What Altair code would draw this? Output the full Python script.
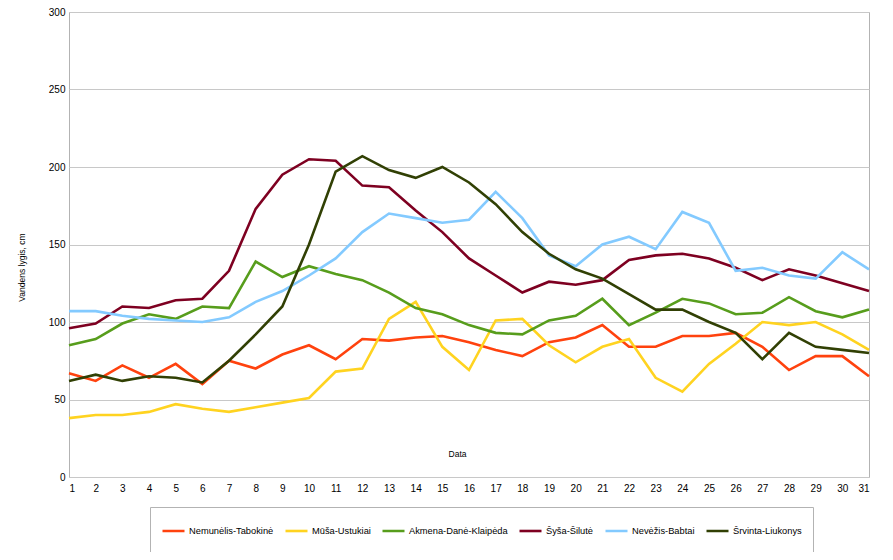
import altair as alt
import pandas as pd

days = list(range(1, 32))
series = ["Nemunėlis-Tabokinė", "Mūša-Ustukiai", "Akmena-Danė-Klaipėda",
          "Šyša-Šilutė", "Nevėžis-Babtai", "Šrvinta-Liukonys"]
colors = ["#ff420e", "#ffd320", "#579d1c", "#7e0021", "#83caff", "#314004"]

nemunelis = [67, 62, 72, 64, 73, 60, 75, 70, 79, 85, 76, 89, 88, 90, 91, 87,
             82, 78, 87, 90, 98, 84, 84, 91, 91, 93, 84, 69, 78, 78, 65]
musa = [38, 40, 40, 42, 47, 44, 42, 45, 48, 51, 68, 70, 102, 113, 84, 69,
        101, 102, 85, 74, 84, 89, 64, 55, 73, 86, 100, 98, 100, 92, 82]
akmena = [85, 89, 99, 105, 102, 110, 109, 139, 129, 136, 131, 127, 119, 109,
          105, 98, 93, 92, 101, 104, 115, 98, 106, 115, 112, 105, 106, 116,
          107, 103, 108]
sysa = [96, 99, 110, 109, 114, 115, 133, 173, 195, 205, 204, 188, 187, 172,
        158, 141, 130, 119, 126, 124, 127, 140, 143, 144, 141, 135, 127, 134,
        130, 125, 120]
nevezis = [107, 107, 104, 102, 101, 100, 103, 113, 120, 130, 141, 158, 170,
           167, 164, 166, 184, 167, 143, 136, 150, 155, 147, 171, 164, 133,
           135, 130, 128, 145, 134]
srvinta = [62, 66, 62, 65, 64, 61, 75, 92, 110, 150, 197, 207, 198, 193, 200,
           190, 176, 158, 144, 134, 128, 118, 108, 108, 100, 93, 76, 93, 84,
           82, 80]

y_ticks = [0, 50, 100, 150, 200, 250, 300]

values = [nemunelis, musa, akmena, sysa, nevezis, srvinta]
rows = []
for name, vals in zip(series, values):
    for d, v in zip(days, vals):
        rows.append({"diena": d, "lygis": v, "stotis": name})
df = pd.DataFrame(rows)

FONT = "Liberation Sans"

chart = alt.Chart(df).mark_line(strokeWidth=2.6).encode(
    x=alt.X("diena:Q",
            scale=alt.Scale(domain=[1, 31], nice=False, zero=False),
            axis=alt.Axis(values=days, format="d", title="Data", grid=False,
                          ticks=False, domain=False, labelPadding=6,
                          labelFontSize=10, labelColor="#000000",
                          titleFontSize=8.5, titleFontWeight="normal",
                          titleColor="#000000", titleX=388, titleY=-24,
                          titleBaseline="middle", titleAlign="center")),
    y=alt.Y("lygis:Q",
            scale=alt.Scale(domain=[0, 300], nice=False),
            axis=alt.Axis(values=y_ticks, title="Vandens lygis, cm",
                          ticks=False, domain=False, labelPadding=4,
                          labelFontSize=10, labelColor="#000000",
                          gridColor="#c8c8c8", gridWidth=1,
                          titleFontSize=8.5, titleFontWeight="normal",
                          titleColor="#000000", titleX=-48, titleY=255,
                          titleAngle=270, titleAlign="center",
                          titleBaseline="middle")),
    color=alt.Color("stotis:N",
                    scale=alt.Scale(domain=series, range=colors),
                    legend=alt.Legend(title=None, orient="none",
                                      legendX=81, legendY=495,
                                      direction="horizontal", columns=6,
                                      symbolType="stroke", symbolSize=484,
                                      symbolStrokeWidth=2.6, clipHeight=26,
                                      labelFontSize=9.3, labelColor="#000000",
                                      labelOffset=3, columnPadding=10,
                                      padding=11, strokeColor="#b3b3b3",
                                      labelLimit=0)),
).properties(
    width=800, height=465,
    padding={"left": 61, "top": 4, "right": 16, "bottom": 75},
    autosize="none",
).configure(font=FONT).configure_view(stroke="#b3b3b3", strokeWidth=1)

chart.save("out.html", embed_options={"renderer": "svg", "actions": False})
